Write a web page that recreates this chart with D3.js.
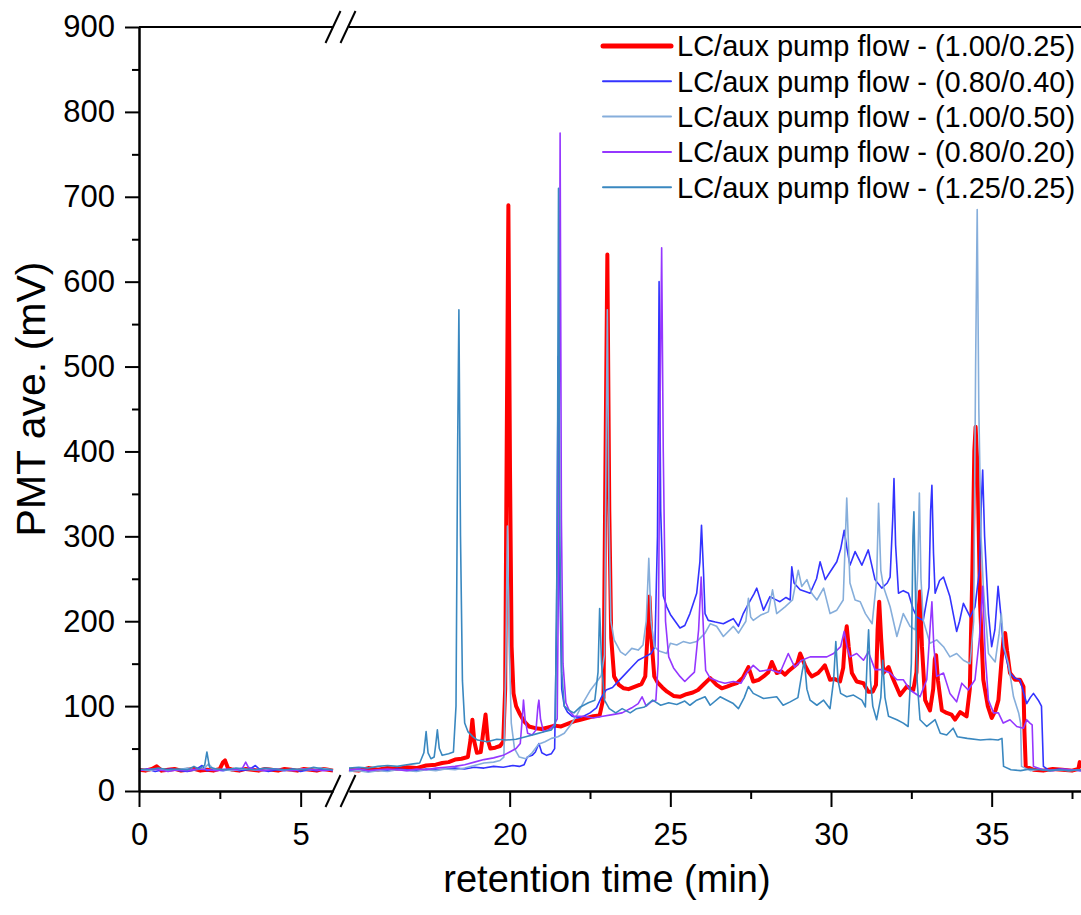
<!DOCTYPE html>
<html>
<head>
<meta charset="utf-8">
<script src="https://cdn.jsdelivr.net/npm/d3@7"></script>
<style>
  body { margin: 0; background: #fff; }
  svg { display: block; }
  text { font-family: "Liberation Sans", Arial, Helvetica, sans-serif; fill: #000; }
</style>
</head>
<body>
<svg id="chart" width="1081" height="915"></svg>
<script>
// ---- series: [retention time (min), PMT ave. (mV)] ----
const seriesLabels = [
  "LC/aux pump flow - (1.00/0.25)",
  "LC/aux pump flow - (0.80/0.40)",
  "LC/aux pump flow - (1.00/0.50)",
  "LC/aux pump flow - (0.80/0.20)",
  "LC/aux pump flow - (1.25/0.25)"
];

const flow100_025 = [
  [0,25],[0.2,24],[0.4,26],[0.55,29],[0.7,24],[0.9,25],[1.1,26],[1.3,24],[1.5,25],[1.7,26],[1.9,24],[2.1,25],[2.3,24],[2.5,26],[2.6,34],[2.66,36],[2.75,27],[2.9,25],[3.1,24],[3.3,26],[3.5,25],[3.7,24],[3.9,26],[4.1,25],[4.3,24],[4.5,26],[4.7,25],[4.9,24],[5.1,26],[5.3,25],[5.5,24],[5.7,26],[5.85,25],[6.0,24],
  [15.0,25],[15.3,24],[15.6,27],[15.9,25],[16.2,27],[16.5,26],[16.8,28],[17.1,27],[17.4,30],[17.7,31],[17.9,33],[18.1,34],[18.3,37],[18.5,38],[18.7,40],[18.78,60],[18.84,84],[18.9,58],[18.98,45],[19.1,46],[19.18,70],[19.25,90],[19.32,60],[19.4,50],[19.55,51],[19.7,53],[19.8,58],[19.86,120],[19.91,420],[19.96,690],[20.01,380],[20.06,170],[20.12,115],[20.2,100],[20.3,92],[20.45,82],[20.6,76],[20.8,74],[21.0,73],[21.2,75],[21.4,77],[21.6,76],[21.8,79],[22.0,82],[22.2,84],[22.4,86],[22.6,88],[22.8,89],[22.92,110],[22.98,380],[23.04,632],[23.1,330],[23.16,180],[23.25,135],[23.4,125],[23.55,121],[23.7,120],[23.9,123],[24.1,126],[24.22,135],[24.3,190],[24.35,229],[24.41,180],[24.5,135],[24.6,128],[24.75,122],[24.9,117],[25.1,112],[25.3,111],[25.5,114],[25.7,116],[25.86,119],[26.05,126],[26.24,133],[26.44,125],[26.6,121],[26.76,123],[26.9,125],[27.07,127],[27.25,133],[27.43,146],[27.58,129],[27.75,131],[27.9,135],[28.05,140],[28.16,152],[28.31,139],[28.45,141],[28.57,137],[28.7,142],[28.83,146],[28.95,150],[29.04,162],[29.19,148],[29.3,140],[29.4,135],[29.6,139],[29.72,144],[29.81,148],[29.97,131],[30.1,132],[30.28,129],[30.38,145],[30.44,180],[30.49,194],[30.55,170],[30.65,139],[30.8,129],[31.01,127],[31.16,117],[31.3,117],[31.4,125],[31.45,190],[31.5,223],[31.56,180],[31.63,139],[31.79,146],[31.9,135],[31.99,127],[32.15,113],[32.36,123],[32.56,119],[32.66,140],[32.72,210],[32.77,235],[32.83,170],[32.93,107],[33.08,95],[33.18,120],[33.23,155],[33.27,160],[33.33,130],[33.45,95],[33.6,92],[33.75,90],[33.86,84],[34.02,93],[34.22,88],[34.32,120],[34.4,260],[34.46,400],[34.5,429],[34.56,380],[34.64,220],[34.74,131],[34.88,100],[35.0,86],[35.12,95],[35.21,107],[35.3,150],[35.37,180],[35.42,186],[35.48,165],[35.57,139],[35.73,131],[35.88,131],[35.99,123],[36.02,70],[36.06,29],[36.3,25],[36.6,24],[36.9,26],[37.2,25],[37.5,24],[37.7,26],[37.74,34],[37.78,27]
];

const flow080_040 = [
  [0,24],[0.25,26],[0.5,23],[0.75,25],[1.0,26],[1.25,24],[1.5,23],[1.75,25],[1.95,30],[2.1,24],[2.3,25],[2.6,24],[2.9,26],[3.1,24],[3.4,25],[3.6,30],[3.75,25],[4.0,23],[4.25,25],[4.5,24],[4.75,26],[5.0,23],[5.25,25],[5.5,24],[5.75,26],[6.0,24],
  [15.0,24],[15.3,26],[15.6,23],[15.9,25],[16.2,24],[16.5,26],[16.8,25],[17.1,24],[17.4,26],[17.7,25],[18.0,26],[18.3,27],[18.6,26],[18.9,28],[19.2,27],[19.5,29],[19.8,28],[20.1,30],[20.3,29],[20.45,31],[20.55,40],[20.7,42],[20.8,46],[20.91,56],[21.0,45],[21.15,42],[21.3,44],[21.4,50],[21.46,200],[21.51,512],[21.56,250],[21.62,120],[21.7,100],[21.8,93],[21.95,88],[22.1,86],[22.3,88],[22.5,92],[22.7,98],[22.85,110],[23.0,119],[23.2,122],[23.4,130],[23.6,138],[23.8,146],[24.0,154],[24.2,158],[24.4,162],[24.52,170],[24.6,300],[24.65,600],[24.7,330],[24.78,230],[24.89,217],[25.0,208],[25.15,200],[25.3,192],[25.45,195],[25.61,209],[25.82,233],[25.92,270],[25.97,313],[26.03,260],[26.08,209],[26.18,201],[26.4,199],[26.65,197],[26.8,200],[26.96,203],[27.12,194],[27.27,209],[27.45,222],[27.6,232],[27.69,239],[27.9,213],[28.1,229],[28.25,226],[28.41,223],[28.6,228],[28.73,225],[28.78,264],[28.85,245],[29.04,237],[29.2,235],[29.35,233],[29.55,250],[29.66,270],[29.82,249],[29.97,258],[30.18,270],[30.3,285],[30.41,307],[30.5,285],[30.59,266],[30.75,282],[30.96,266],[31.16,284],[31.37,249],[31.58,239],[31.75,245],[31.84,252],[31.92,320],[31.96,368],[32.01,290],[32.1,233],[32.25,236],[32.41,233],[32.55,215],[32.67,205],[32.87,201],[33.05,240],[33.1,330],[33.14,360],[33.19,280],[33.24,233],[33.38,248],[33.5,252],[33.7,229],[33.91,188],[34.0,200],[34.12,221],[34.33,205],[34.48,217],[34.62,260],[34.68,340],[34.72,378],[34.78,300],[34.9,209],[35.0,170],[35.1,190],[35.2,241],[35.28,210],[35.36,170],[35.57,139],[35.72,133],[35.88,131],[36.09,103],[36.2,110],[36.3,115],[36.45,107],[36.55,100],[36.61,29],[36.8,24],[37.1,26],[37.4,25],[37.78,24]
];

const flow100_050 = [
  [0,25],[0.3,24],[0.6,26],[0.9,24],[1.2,25],[1.5,27],[1.7,25],[2.0,26],[2.15,32],[2.3,26],[2.6,25],[2.9,24],[3.2,26],[3.5,25],[3.8,24],[4.1,26],[4.4,25],[4.7,24],[5.0,26],[5.3,25],[5.6,27],[6.0,25],
  [15.0,23],[15.3,24],[15.6,22],[15.9,24],[16.2,23],[16.5,25],[16.8,24],[17.1,23],[17.4,25],[17.7,24],[18.0,26],[18.3,25],[18.6,27],[18.9,30],[19.2,33],[19.5,34],[19.7,36],[19.82,40],[19.88,150],[19.93,312],[19.98,180],[20.05,80],[20.15,50],[20.3,40],[20.5,38],[20.7,45],[20.9,55],[21.1,58],[21.3,62],[21.5,64],[21.7,68],[21.9,78],[22.1,90],[22.3,105],[22.5,118],[22.7,128],[22.85,136],[22.95,160],[23.0,400],[23.04,567],[23.09,330],[23.15,200],[23.25,178],[23.45,164],[23.6,160],[23.8,168],[24.0,166],[24.15,172],[24.25,200],[24.33,274],[24.4,200],[24.5,170],[24.65,165],[24.89,162],[25.0,174],[25.2,172],[25.4,176],[25.61,174],[25.82,176],[26.08,186],[26.24,197],[26.44,194],[26.65,182],[26.96,194],[27.12,186],[27.35,200],[27.43,227],[27.5,205],[27.58,201],[27.8,207],[28.05,211],[28.18,237],[28.31,209],[28.57,217],[28.8,225],[28.98,260],[29.09,241],[29.25,249],[29.4,233],[29.56,225],[29.77,239],[29.97,209],[30.18,213],[30.38,225],[30.49,345],[30.59,245],[30.75,225],[30.91,223],[31.07,209],[31.28,197],[31.42,249],[31.48,339],[31.55,260],[31.63,241],[31.84,217],[32.05,182],[32.25,209],[32.46,194],[32.62,190],[32.7,260],[32.75,351],[32.8,250],[32.87,201],[33.08,174],[33.29,178],[33.5,170],[33.7,158],[33.91,162],[34.12,154],[34.33,150],[34.44,200],[34.5,500],[34.55,685],[34.6,450],[34.67,300],[34.74,241],[34.9,162],[35.11,152],[35.23,185],[35.3,209],[35.38,170],[35.52,150],[35.68,111],[35.84,92],[35.9,80],[35.93,29],[36.2,24],[36.5,26],[36.8,24],[37.1,25],[37.4,24],[37.78,25]
];

const flow080_020 = [
  [0,24],[0.3,26],[0.6,25],[0.9,23],[1.2,25],[1.5,24],[1.8,26],[2.1,25],[2.4,24],[2.7,26],[3.0,25],[3.2,27],[3.3,34],[3.38,28],[3.6,25],[3.9,24],[4.2,26],[4.5,25],[4.8,24],[5.1,26],[5.4,25],[5.7,24],[6.0,25],
  [15.0,25],[15.3,26],[15.6,24],[15.9,25],[16.2,26],[16.5,25],[16.8,24],[17.1,26],[17.4,25],[17.7,27],[18.0,28],[18.3,29],[18.6,31],[18.9,34],[19.2,37],[19.5,39],[19.8,42],[20.0,46],[20.2,50],[20.33,56],[20.4,90],[20.43,107],[20.48,85],[20.56,68],[20.7,66],[20.82,72],[20.88,100],[20.91,107],[20.96,85],[21.05,70],[21.2,72],[21.35,76],[21.48,85],[21.53,300],[21.57,775],[21.61,320],[21.66,150],[21.75,104],[21.85,95],[22.0,88],[22.3,88],[22.6,86],[22.9,88],[23.2,90],[23.5,92],[23.8,98],[24.0,103],[24.12,111],[24.25,100],[24.4,105],[24.55,107],[24.62,150],[24.68,450],[24.73,640],[24.78,400],[24.85,200],[24.95,158],[25.1,145],[25.3,135],[25.45,129],[25.61,135],[25.75,140],[25.88,190],[25.96,252],[26.03,190],[26.1,142],[26.24,133],[26.5,129],[26.7,127],[26.96,129],[27.2,127],[27.37,139],[27.58,148],[27.79,141],[28.1,143],[28.41,139],[28.67,162],[28.87,146],[29.09,154],[29.35,158],[29.66,158],[29.87,158],[30.08,162],[30.3,170],[30.41,188],[30.5,170],[30.59,158],[30.8,162],[31.01,154],[31.16,164],[31.37,143],[31.58,143],[31.84,139],[32.05,131],[32.25,131],[32.46,119],[32.77,111],[32.98,131],[33.08,190],[33.14,223],[33.2,170],[33.29,135],[33.5,139],[33.7,115],[33.91,105],[34.07,127],[34.27,119],[34.48,131],[34.62,180],[34.72,241],[34.8,160],[34.9,107],[35.06,92],[35.21,92],[35.36,80],[35.57,84],[35.78,76],[35.99,74],[36.09,84],[36.19,80],[36.26,78],[36.3,29],[36.6,25],[36.9,24],[37.2,26],[37.5,25],[37.78,24]
];

const flow125_025 = [
  [0,26],[0.3,25],[0.6,27],[0.9,25],[1.2,26],[1.5,25],[1.7,29],[1.85,26],[2.03,30],[2.1,46],[2.18,28],[2.4,26],[2.7,25],[3.0,27],[3.3,26],[3.6,25],[3.9,27],[4.2,26],[4.5,25],[4.8,26],[5.1,25],[5.4,28],[5.7,26],[6.0,25],
  [15.0,27],[15.3,28],[15.6,27],[15.9,29],[16.2,30],[16.5,29],[16.8,31],[17.0,32],[17.2,33],[17.33,45],[17.4,70],[17.46,45],[17.55,38],[17.65,40],[17.7,55],[17.75,72],[17.81,50],[17.9,42],[18.1,44],[18.25,46],[18.33,100],[18.38,400],[18.42,567],[18.47,300],[18.53,130],[18.6,80],[18.7,70],[18.85,64],[19.0,60],[19.3,58],[19.6,61],[19.9,60],[20.2,61],[20.5,64],[20.8,67],[21.1,70],[21.3,72],[21.42,78],[21.48,300],[21.52,710],[21.56,300],[21.62,140],[21.7,100],[21.85,95],[22.0,92],[22.2,99],[22.45,104],[22.65,107],[22.75,140],[22.8,215],[22.86,150],[22.95,107],[23.1,97],[23.3,92],[23.5,97],[23.75,92],[23.95,97],[24.2,99],[24.45,107],[24.7,101],[24.95,104],[25.2,102],[25.45,106],[25.61,101],[25.82,107],[26.08,111],[26.24,101],[26.55,111],[26.76,107],[26.96,103],[27.12,97],[27.3,110],[27.43,123],[27.58,115],[27.9,109],[28.31,111],[28.51,101],[28.73,105],[28.97,110],[29.1,140],[29.17,154],[29.25,120],[29.35,107],[29.56,101],[29.77,107],[29.97,97],[30.08,130],[30.15,176],[30.22,130],[30.3,115],[30.49,111],[30.7,113],[30.96,107],[31.07,99],[31.13,160],[31.17,190],[31.23,130],[31.3,100],[31.42,84],[31.55,110],[31.61,154],[31.68,110],[31.79,88],[32.05,84],[32.25,80],[32.4,76],[32.5,150],[32.55,300],[32.58,329],[32.62,250],[32.68,130],[32.77,84],[32.98,76],[33.24,84],[33.4,68],[33.6,66],[33.8,74],[33.93,64],[34.24,62],[34.65,60],[34.95,61],[35.2,60],[35.32,62],[35.37,29],[35.6,25],[35.9,24],[36.2,26],[36.5,25],[36.8,24],[37.1,25],[37.4,24],[37.78,25]
];

const seriesData = [flow100_025, flow080_040, flow100_050, flow080_020, flow125_025];
const seriesColors = ["#ff0000", "#3333ff", "#86aedb", "#9537ff", "#3a88c0"];
const seriesWidths = [4, 1.6, 1.6, 1.6, 1.6];

// ---- axes ----
const yTicks = [0, 100, 200, 300, 400, 500, 600, 700, 800, 900];
const yMinorTicks = [50, 150, 250, 350, 450, 550, 650, 750, 850];
const xTicksLeft = [0, 5];
const xMinorLeft = [2.5];
const xTicksRight = [20, 25, 30, 35];
const xMinorRight = [17.5, 22.5, 27.5, 32.5, 37.5];
const leftDomain = [0, 6];
const rightDomain = [15, 37.78];

const svg = d3.select("#chart");
const plotLeft = 139, plotTop = 27, plotBottom = 791, plotRight = 1081;
const breakL = 333, breakR = 349;

const xL = d3.scaleLinear().domain(leftDomain).range([plotLeft, breakL]);
const xR = d3.scaleLinear().domain(rightDomain).range([breakR, plotRight]);
const y = d3.scaleLinear().domain([0, 900]).range([plotBottom, plotTop]);

const tickFont = 31;
const legendFont = 29;

// data lines, one path per axis segment
const lineL = d3.line().x(d => xL(d[0])).y(d => y(d[1]));
const lineR = d3.line().x(d => xR(d[0])).y(d => y(d[1]));
const gLines = svg.append("g");
seriesData.forEach((data, i) => {
  const left = data.filter(d => d[0] <= leftDomain[1]);
  const right = data.filter(d => d[0] >= rightDomain[0]);
  [[left, lineL], [right, lineR]].forEach(([pts, gen]) => {
    gLines.append("path")
      .attr("d", gen(pts))
      .attr("fill", "none")
      .attr("stroke", seriesColors[i])
      .attr("stroke-width", seriesWidths[i])
      .attr("stroke-linejoin", "round");
  });
});

function styleAxis(g) {
  g.selectAll("path.domain").attr("stroke", "#000").attr("stroke-width", 2);
  g.selectAll(".tick line").attr("stroke", "#000").attr("stroke-width", 2);
  g.selectAll(".tick text").attr("font-size", tickFont).attr("fill", "#000")
    .style("font-family", '"Liberation Sans", Arial, sans-serif');
}

// bottom axis, left segment
svg.append("g").attr("transform", `translate(0,${plotBottom})`)
  .call(d3.axisBottom(xL).tickValues(xTicksLeft).tickSize(16).tickSizeOuter(0).tickPadding(16).tickFormat(d3.format("d")))
  .call(styleAxis);
svg.append("g").attr("transform", `translate(0,${plotBottom})`)
  .call(d3.axisBottom(xL).tickValues(xMinorLeft).tickSize(8).tickSizeOuter(0).tickFormat(""))
  .call(styleAxis);
// bottom axis, right segment
svg.append("g").attr("transform", `translate(0,${plotBottom})`)
  .call(d3.axisBottom(xR).tickValues(xTicksRight).tickSize(16).tickSizeOuter(0).tickPadding(16).tickFormat(d3.format("d")))
  .call(styleAxis);
svg.append("g").attr("transform", `translate(0,${plotBottom})`)
  .call(d3.axisBottom(xR).tickValues(xMinorRight).tickSize(8).tickSizeOuter(0).tickFormat(""))
  .call(styleAxis);

// left axis
svg.append("g").attr("transform", `translate(${plotLeft},0)`)
  .call(d3.axisLeft(y).tickValues(yTicks).tickSize(14).tickSizeOuter(0).tickPadding(10))
  .call(styleAxis);
svg.append("g").attr("transform", `translate(${plotLeft},0)`)
  .call(d3.axisLeft(y).tickValues(yMinorTicks).tickSize(7).tickSizeOuter(0).tickFormat(""))
  .call(styleAxis);

// top frame line (split at the break)
svg.append("line").attr("x1", plotLeft).attr("x2", breakL).attr("y1", plotTop).attr("y2", plotTop)
  .attr("stroke", "#000").attr("stroke-width", 2);
svg.append("line").attr("x1", breakR).attr("x2", plotRight).attr("y1", plotTop).attr("y2", plotTop)
  .attr("stroke", "#000").attr("stroke-width", 2);

// axis break marks
[breakL, breakR - 1].forEach(cx => {
  [plotTop, plotBottom].forEach(cy => {
    svg.append("line")
      .attr("x1", cx - 7.5).attr("y1", cy + 16)
      .attr("x2", cx + 7.5).attr("y2", cy - 16)
      .attr("stroke", "#000").attr("stroke-width", 2);
  });
});

// axis titles
svg.append("text")
  .attr("x", 607).attr("y", 892)
  .attr("text-anchor", "middle")
  .attr("font-size", 38)
  .text("retention time (min)");
svg.append("text")
  .attr("transform", "translate(45,399) rotate(-90)")
  .attr("text-anchor", "middle")
  .attr("font-size", 41)
  .text("PMT ave. (mV)");

// legend
const legend = svg.append("g");
seriesLabels.forEach((label, i) => {
  const ly = 46 + i * 35.3;
  legend.append("line")
    .attr("x1", 603).attr("x2", 671).attr("y1", ly).attr("y2", ly)
    .attr("stroke", seriesColors[i])
    .attr("stroke-width", i === 0 ? 5 : 2)
    .attr("stroke-linecap", "round");
  legend.append("text")
    .attr("x", 677).attr("y", ly).attr("dy", "0.36em")
    .attr("font-size", legendFont)
    .text(label);
});
</script>
</body>
</html>
